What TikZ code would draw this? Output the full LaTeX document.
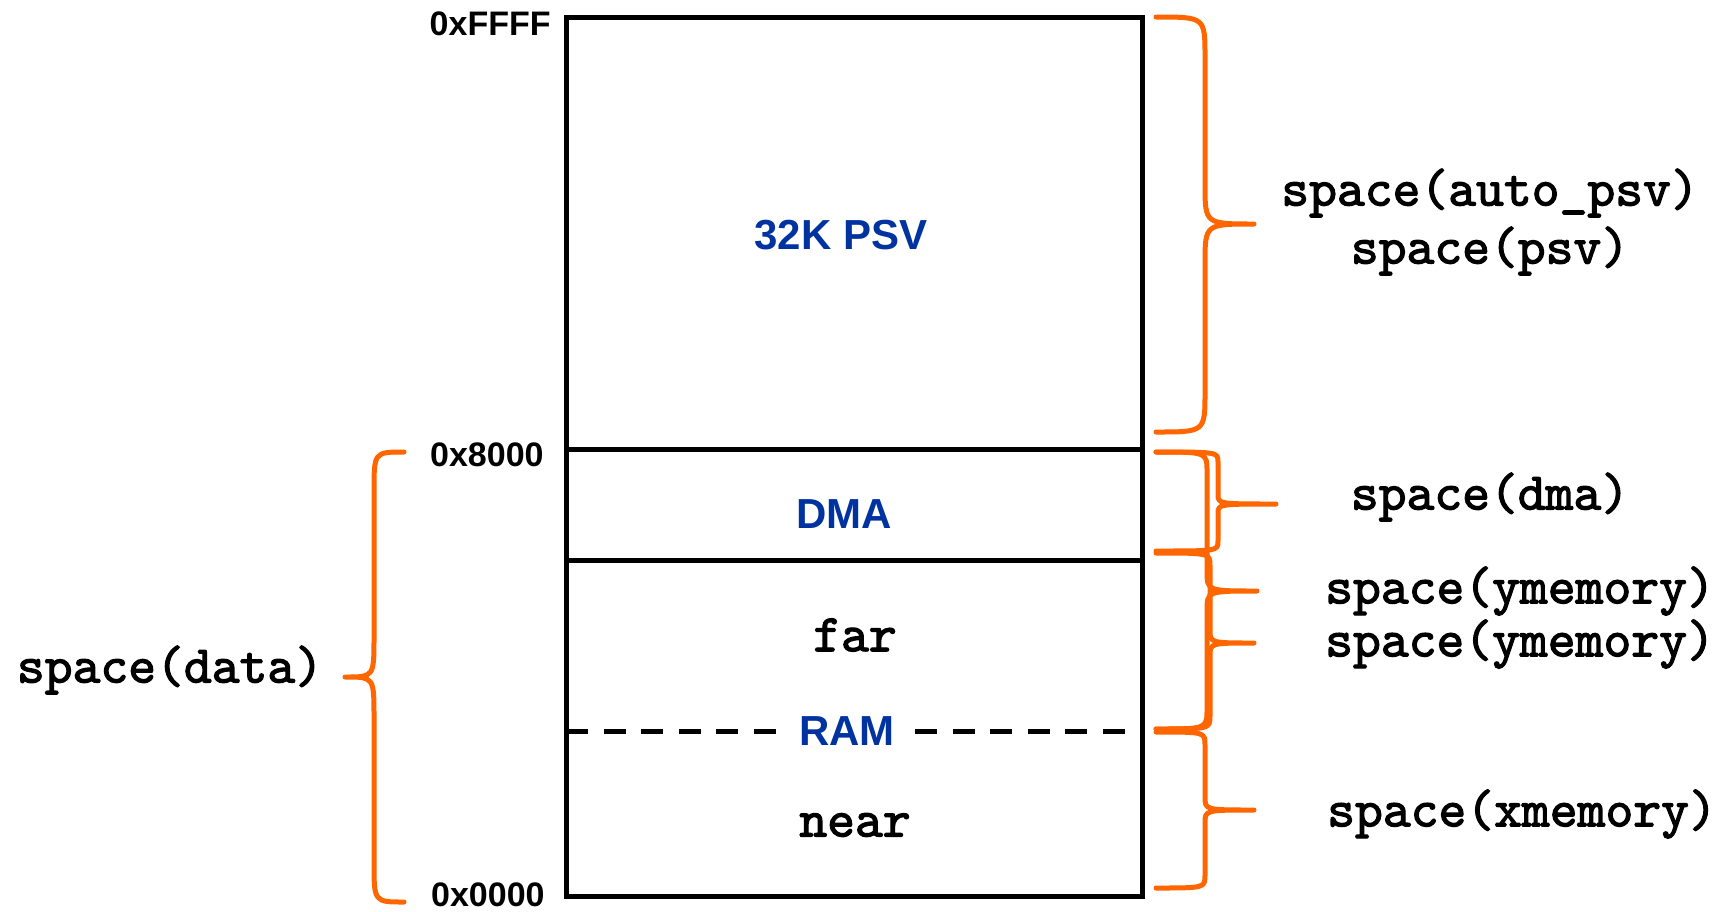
\documentclass[tikz,border=0pt]{standalone}
\usepackage{fontspec}
\setmainfont{Liberation Sans}
\newfontfamily\codefont{lmmono10-regular.otf}[FakeBold=2.2]
\usepackage{tikz}
\definecolor{braceorange}{HTML}{FF6600}
\definecolor{regionblue}{HTML}{0033A0}
\tikzstyle{wall}=[line width=2.5pt]
\tikzstyle{addr}=[font=\fontsize{17}{17}\selectfont\bfseries, inner sep=0pt]
\tikzstyle{region}=[font=\fontsize{21}{21}\selectfont\bfseries, text=regionblue, inner sep=0pt]
\tikzstyle{sect}=[font=\fontsize{26.5}{29}\selectfont\codefont, inner sep=0pt, align=center]
\tikzstyle{curly}=[draw=braceorange, line width=2.5pt, line join=round, line cap=round]
% #1 start x, #2 stem x, #3 tip x, #4 top y, #5 bottom y, #6 tip y, #7 curl length
\newcommand{\membrace}[7]{%
  \draw [curly] (#1,#4) .. controls (#2,#4) .. (#2,#4+#7) -- (#2,#6-#7)
    .. controls (#2,#6) .. (#3,#6) .. controls (#2,#6) .. (#2,#6+#7)
    -- (#2,#5-#7) .. controls (#2,#5) .. (#1,#5);}

\begin{document}
\begin{tikzpicture}[x=0.5pt,y=-0.5pt]
  \useasboundingbox (0,0) rectangle (1729,911);
  % memory map
  \draw [wall] (566,17) rectangle (1142,896);
  \draw [wall] (566,449) -- (1142,449);
  \draw [wall] (566,560) -- (1142,560);
  \node (psv) [region] at (841,235) {32K PSV};
  \node (dma) [region] at (844,514) {DMA};
  \node (far) [sect] at (855,635) {far};
  \node (ram) [region, inner xsep=10pt] at (847,731) {RAM};
  \node (near) [sect] at (855,825) {near};
  \draw [wall, dash pattern=on 11pt off 7.75pt] (566,731) -- (ram.west);
  \draw [wall, dash pattern=on 11pt off 7.75pt] (ram.east) -- (1142,731);
  % addresses
  \node (ffff) [addr, left] at (551,24) {0xFFFF};
  \node (x8000) [addr, left] at (544,455) {0x8000};
  \node (x0000) [addr, left] at (545,895) {0x0000};
  % braces
  \membrace{1156}{1205}{1254}{17}{432}{224}{40}
  \membrace{1156}{1218}{1276}{452}{551}{504}{10}
  \membrace{1156}{1207}{1257}{452}{729}{591}{20}
  \membrace{1156}{1210}{1254}{553}{729}{643}{13}
  \membrace{1156}{1205}{1254}{732}{888}{810}{13}
  \membrace{404}{374}{345}{452}{902}{677}{40}
  % sections
  \node (autopsv) [sect] at (1490,222) {space(auto\_psv)\\space(psv)};
  \node (sdma) [sect] at (1490,497) {space(dma)};
  \node (ymem) [sect] at (1520,591) {space(ymemory)};
  \node (ymemb) [sect] at (1520,644) {space(ymemory)};
  \node (xmem) [sect] at (1522,814) {space(xmemory)};
  \node (data) [sect] at (170,670) {space(data)};
\end{tikzpicture}
\end{document}
